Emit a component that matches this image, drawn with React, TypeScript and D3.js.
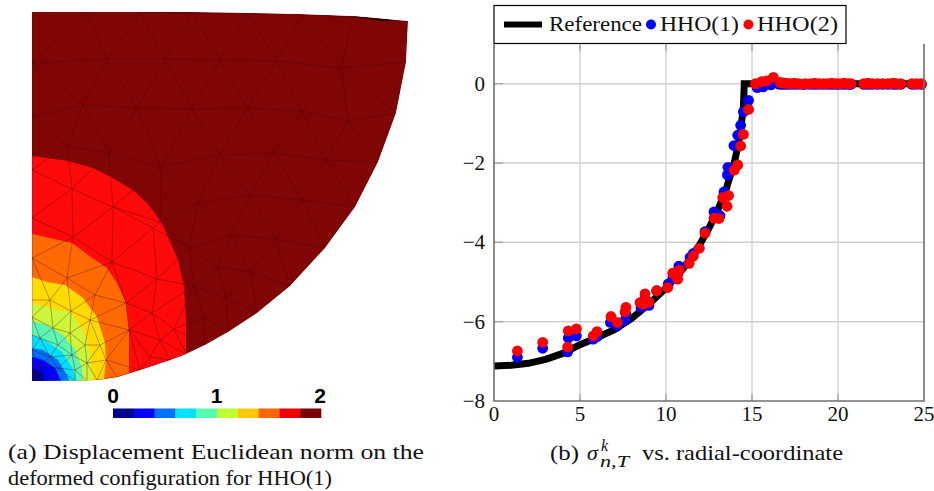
import React, { useEffect, useRef } from 'react';
import * as d3 from 'd3';

type Pt = [number, number];

// ---- left panel: mesh coordinates
const domainOutline: Pt[] = [[0, 36.9], [15.8, 36.9], [21.8, 36.8], [26.8, 36.7], [32.3, 36.5], [37.6, 36], [37.4, 31.9], [36.4, 26.8], [34.6, 21.9], [32.3, 17.4], [29.3, 13.3], [25.8, 9.5], [22.5, 6.8], [19.6, 4.9], [17.3, 3.6], [15.4, 2.7], [13.8, 2.1], [10.8, 1.1], [8.5, 0.4], [6.5, 0.1], [0, 0]];
const sliver: Pt[] = [[32.3, 36.45], [36, 36.1], [36, 35.95], [33.5, 36.2]];

const contourRed: Pt[] = [[0, 22.5], [1.5, 22.3], [3.6, 22], [6.1, 21.3], [8.1, 20.3], [10.2, 19], [11.5, 17.8], [13, 15.8], [14.6, 12.1], [15.2, 9.4], [15.4, 6.1], [15.4, 2.1]];
const contourOrange: Pt[] = [[0, 14.7], [1.8, 14.3], [4, 13.8], [5.6, 12.6], [7.5, 11.3], [8.5, 9.8], [9.4, 7.8], [9.7, 5.1], [9.7, 0.8]];
const contourYellow: Pt[] = [[0, 10.4], [1.5, 9.9], [3.3, 9.6], [5.1, 8.3], [6.5, 6.4], [7.3, 3.8], [7.4, 2.1], [7.2, 0.3]];
const contourLime: Pt[] = [[0, 7.8], [1.8, 7.3], [3.8, 6.9], [5.1, 5.1], [5.8, 2.8], [6.1, 0]];
const contourTeal: Pt[] = [[0, 6], [1.5, 5.6], [3.1, 4.6], [4.3, 3.1], [5, 1.4], [5.1, 0]];
const contourCyan: Pt[] = [[0, 4.6], [1.3, 4.1], [3, 2.9], [4, 1.4], [4.5, 0]];
const contourMid: Pt[] = [[0, 3.3], [1.1, 3.1], [2.6, 2.1], [3.6, 0.4], [3.7, 0]];
const contourBlue: Pt[] = [[0, 2.4], [1.1, 2.1], [2.3, 1.3], [2.9, 0]];
const contourNavy: Pt[] = [[0, 1.3], [1, 0.9], [1.3, 0]];

const contours = [contourRed, contourOrange, contourYellow, contourLime, contourTeal, contourCyan, contourMid, contourBlue, contourNavy];
const bandColors = ['#ff0a0a', '#ff6a00', '#ffdc00', '#ccf53c', '#5cf5b0', '#00dfff', '#0070ff', '#0000ff', '#00008c'];

const meshNodes: Pt[] = [
  [0, 36.9], [5.5, 36.9], [10.8, 36.9], [16, 36.8], [21.5, 36.8], [27, 36.6], [32.1, 36.4], [37.6, 36],
  [0, 31.8], [7.5, 32.2], [13.3, 32.2], [18.8, 32.1], [24.5, 32], [30.9, 31.3], [37.4, 31.9],
  [0, 26.4], [5.1, 27.6], [10.5, 27.3], [16, 27.2], [21.5, 27.3], [27, 27], [31.6, 26], [36.4, 26.8],
  [3.5, 23.5], [7.7, 22.8], [12.9, 21.4], [18.8, 22.6], [24.2, 22.8], [29.4, 22.1], [34.6, 21.9],
  [0, 21.1], [4, 19.2], [8.1, 17.4], [16.6, 17.8], [21.8, 18.6], [27, 18.1], [32.3, 17.4], [12.8, 15.9],
  [0, 16.3], [4.1, 14.4], [8, 11.9], [12.5, 10.2], [15.7, 13.3], [18.6, 11.4], [17.2, 6.4], [16.2, 9.5], [12.1, 15.3],
  [0, 12.3], [3.5, 10.3], [6.3, 8.6], [9.4, 7.8], [12, 6.8], [9.7, 5.1], [12.8, 4.1], [15.4, 2.7], [10.8, 1.1], [11.8, 2.4], [13.8, 2.1], [14.2, 5.2],
  [19.4, 8.3], [19.9, 14.6], [24.4, 14.2], [21.9, 10.9], [29.3, 13.3], [25.8, 9.5], [22.5, 6.8], [19.6, 4.9], [17.3, 3.6],
  [1.8, 8.1], [3.9, 7], [5.8, 6.1], [7.4, 2.1], [6.8, 3.6], [5.3, 3.6], [3.8, 4.8], [2.1, 5.3], [0, 6.4], [0, 8.1], [2.6, 3.6], [0.8, 4.3], [0, 4.6],
  [4, 2.6], [5.5, 1.8], [1.8, 2.4], [0, 3.1], [0, 1.6], [0.8, 1.4], [2.6, 1.3], [4.3, 1.1], [1, 0], [2, 0], [4.3, 0], [5.5, 0], [6.5, 0.1], [8.5, 0.4], [0, 0],
];

// colorbar
const barColors = ['#00008f', '#0000ff', '#0070ff', '#00e5ff', '#55ffb0', '#c0ff33', '#ffc800', '#ff6600', '#ee0000', '#7a0000'];
const barTicks = [0, 1, 2];

// ---- right panel
const refX = [0, 1, 2, 3, 4, 5, 6, 7, 8, 9, 10, 11, 12, 12.5, 13, 13.5, 14, 14.3, 14.5, 14.55, 25];
const refY = [-7.12, -7.1, -7.05, -6.95, -6.8, -6.58, -6.4, -6.2, -5.92, -5.56, -5.15, -4.66, -4.03, -3.64, -3.2, -2.66, -1.94, -1.31, -0.59, 0, 0];

const flatX = [16.8, 17, 17.2, 17.45, 17.7, 17.95, 18.1, 18.4, 18.65, 18.9, 19.15, 19.4, 19.65, 19.9, 20.1, 20.35, 20.6, 20.75, 21.5, 21.75, 22, 22.3, 22.6, 22.9, 23.2, 23.4, 23.65, 24.3, 24.55, 24.85];

const blueX = [1.36, 2.83, 4.32, 4.79, 4.28, 5.77, 5.99, 6.77, 7.17, 7.62, 7.67, 8.55, 8.78, 9.01, 9.46, 10.13, 10.4, 10.68, 10.75, 11.4, 11.59, 12.27, 12.79, 13.14, 13.37, 13.57, 13.6, 13.95, 14.17, 14.34, 14.5, 14.8, 15.3, 15.65, 16.1, 16.6];
const blueY = [-6.9, -6.67, -6.41, -6.36, -6.76, -6.44, -6.38, -6.02, -6.11, -5.96, -5.81, -5.64, -5.41, -5.59, -5.22, -5.05, -4.9, -4.8, -4.6, -4.38, -4.28, -3.73, -3.23, -3.33, -2.73, -2.3, -2.11, -1.56, -1.3, -1.05, -0.71, -0.42, -0.1, -0.08, -0.03, -0.02];
const blueFlatY = flatX.map(() => -0.02);

const redX = [1.36, 2.83, 4.32, 4.79, 4.28, 5.77, 5.99, 6.8, 7.17, 7.62, 7.67, 8.49, 8.78, 9.01, 8.68, 9.46, 10.1, 10.39, 10.68, 10.77, 10.58, 11.35, 11.59, 11.94, 12.27, 12.79, 13.08, 13.55, 13.64, 13.3, 13.97, 14.17, 14.34, 14.5, 14.8, 15.2, 15.56, 15.85, 16.24, 16.63];
const redY = [-6.74, -6.52, -6.23, -6.18, -6.64, -6.36, -6.25, -5.87, -6.02, -5.75, -5.64, -5.52, -5.3, -5.51, -5.56, -5.22, -5.14, -4.78, -4.93, -4.7, -4.85, -4.53, -4.35, -4.15, -3.77, -3.39, -3.4, -3.09, -2.82, -2.87, -2.18, -2.05, -1.57, -1.28, -0.65, 0, 0.05, 0.07, 0.16, 0.03];
const redFlatY = [0.02, 0.01, 0, 0.01, 0, -0.01, 0, 0, 0.01, 0, 0, 0, 0.01, 0, 0, 0.01, 0, 0, 0, 0.01, 0, 0, 0, 0, 0.01, 0, 0, 0, 0, 0];

const xTicks = [0, 5, 10, 15, 20, 25];
const yTicks = [-8, -6, -4, -2, 0];
const legendLabels = ['Reference', 'HHO(1)', 'HHO(2)'];

const serif = '"Liberation Serif", serif';
const minusSign = '\u2212';

export default function App() {
  const ref = useRef<SVGSVGElement>(null);

  useEffect(() => {
    const svg = d3.select(ref.current);
    svg.selectAll('*').remove();

    // left panel
    const mx = d3.scaleLinear().domain([0, 37.6]).range([32, 408]);
    const my = d3.scaleLinear().domain([0, 36.9]).range([381, 12]);
    const path = d3.line<Pt>().x(d => mx(d[0])).y(d => my(d[1]));

    svg.append('defs').append('clipPath').attr('id', 'dom')
      .append('path').attr('d', path(domainOutline) + 'Z');

    const left = svg.append('g').attr('clip-path', 'url(#dom)');
    left.append('path').attr('d', path(domainOutline) + 'Z').attr('fill', '#800505');
    contours.forEach((c, i) => {
      const last = c[c.length - 1];
      const poly: Pt[] = [...c, [last[0], -1], [0, -1]];
      left.append('path').attr('d', path(poly) + 'Z').attr('fill', bandColors[i]);
    });
    // mesh edges from the node list
    const delaunay = d3.Delaunay.from(meshNodes, d => mx(d[0]), d => my(d[1]));
    left.append('path').attr('d', delaunay.render())
      .attr('fill', 'none').attr('stroke', '#4a0000').attr('stroke-opacity', 0.35).attr('stroke-width', 1);
    svg.append('path').attr('d', path(sliver) + 'Z').attr('fill', '#1a0000');

    // colorbar
    const bx = d3.scaleBand<number>().domain(d3.range(barColors.length)).range([113, 321]);
    svg.append('g').selectAll('rect').data(barColors).enter().append('rect')
      .attr('x', (d, i) => bx(i) as number).attr('y', 408.5)
      .attr('width', bx.bandwidth() + 0.3).attr('height', 9.5).attr('fill', d => d);
    const bt = d3.scaleLinear().domain([0, 2]).range([113, 320]);
    svg.append('g').selectAll('text').data(barTicks).enter().append('text')
      .attr('x', d => bt(d)).attr('y', 403).attr('text-anchor', 'middle')
      .attr('font-family', '"Liberation Sans", sans-serif').attr('font-weight', 'bold').attr('font-size', 21)
      .text(d => d);

    // right panel
    const x = d3.scaleLinear().domain([0, 25]).range([494, 924]);
    const y = d3.scaleLinear().domain([-8, 1]).range([401, 44]);

    const grid = svg.append('g');
    xTicks.slice(1, -1).forEach(t => {
      grid.append('line').attr('x1', x(t)).attr('x2', x(t)).attr('y1', y(-8)).attr('y2', y(1))
        .attr('stroke', '#d6d6d6').attr('stroke-width', 1.5);
      grid.append('line').attr('x1', x(t)).attr('x2', x(t)).attr('y1', y(1)).attr('y2', y(1) + 7)
        .attr('stroke', '#a8a8a8').attr('stroke-width', 1.5);
      grid.append('line').attr('x1', x(t)).attr('x2', x(t)).attr('y1', y(-8)).attr('y2', y(-8) - 7)
        .attr('stroke', '#a8a8a8').attr('stroke-width', 1.5);
    });
    yTicks.slice(1).forEach(t => {
      grid.append('line').attr('x1', x(0)).attr('x2', x(25)).attr('y1', y(t)).attr('y2', y(t))
        .attr('stroke', '#cfcfcf').attr('stroke-width', 1.5);
      grid.append('line').attr('x1', x(0)).attr('x2', x(0) + 9).attr('y1', y(t)).attr('y2', y(t))
        .attr('stroke', '#a8a8a8').attr('stroke-width', 1.5);
    });

    const refLine = d3.line<number>().x(d => x(d)).y((d, i) => y(refY[i]));
    svg.append('path').attr('d', refLine(refX)).attr('fill', 'none')
      .attr('stroke', '#000').attr('stroke-width', 7).attr('stroke-linejoin', 'miter');

    const dots = (xs: number[], ys: number[], color: string) => {
      svg.append('g').selectAll('circle').data(xs).enter().append('circle')
        .attr('cx', d => x(d)).attr('cy', (d, i) => y(ys[i])).attr('r', 5.4).attr('fill', color);
    };
    dots(blueX, blueY, '#0000ff');
    dots(flatX, blueFlatY, '#0000ff');
    dots(redX, redY, '#ff0000');
    dots(flatX, redFlatY, '#ff0000');

    svg.append('path')
      .attr('d', `M${x(0)},${y(1)}V${y(-8)}H${x(25)}V${y(1)}`)
      .attr('fill', 'none').attr('stroke', '#707070').attr('stroke-width', 1.6);

    const tickText = (sel: d3.Selection<any, any, any, any>) =>
      sel.attr('font-family', serif).attr('font-size', 21).attr('fill', '#111');

    const xAxis = svg.append('g');
    xTicks.forEach(t => {
      tickText(xAxis.append('text')).attr('x', x(t)).attr('y', 421).attr('text-anchor', 'middle').text(t);
    });
    const yAxis = svg.append('g');
    yTicks.forEach(t => {
      tickText(yAxis.append('text')).attr('x', 485).attr('y', y(t) + 7).attr('text-anchor', 'end')
        .text(t < 0 ? minusSign + Math.abs(t) : String(t));
    });

    // legend
    const lg = svg.append('g');
    lg.append('rect').attr('x', 494).attr('y', 5.5).attr('width', 352).attr('height', 38)
      .attr('fill', '#fff').attr('stroke', '#000').attr('stroke-width', 1.2);
    lg.append('line').attr('x1', 504).attr('x2', 542).attr('y1', 24.5).attr('y2', 24.5)
      .attr('stroke', '#000').attr('stroke-width', 6);
    lg.append('circle').attr('cx', 651).attr('cy', 24.5).attr('r', 5).attr('fill', '#0000ff');
    lg.append('circle').attr('cx', 748.5).attr('cy', 24.5).attr('r', 5).attr('fill', '#ff0000');
    const legendPos: [number, number][] = [[549, 93], [660, 79], [757, 81]];
    legendLabels.forEach((s, i) => {
      tickText(lg.append('text')).attr('x', legendPos[i][0]).attr('y', 31).attr('font-size', 22)
        .attr('textLength', legendPos[i][1]).attr('lengthAdjust', 'spacingAndGlyphs').text(s);
    });

    // captions
    const cap = svg.append('g');
    const caption = (s: string, cx: number, cy: number, w: number) =>
      tickText(cap.append('text')).attr('x', cx).attr('y', cy)
        .attr('textLength', w).attr('lengthAdjust', 'spacingAndGlyphs').text(s);
    caption('(a) Displacement Euclidean norm on the', 8, 459, 416);
    caption('deformed configuration for HHO(1)', 8, 485, 324);
    caption('(b)', 550, 460, 29);
    tickText(cap.append('text')).attr('x', 587).attr('y', 460).attr('font-size', 22).attr('font-style', 'italic').text('\u03c3');
    tickText(cap.append('text')).attr('x', 601).attr('y', 451).attr('font-size', 16).attr('font-style', 'italic').text('k');
    tickText(cap.append('text')).attr('x', 600).attr('y', 467).attr('font-size', 16).attr('font-style', 'italic')
      .attr('textLength', 29).attr('lengthAdjust', 'spacingAndGlyphs').text('n,T');
    caption('vs. radial-coordinate', 642, 460, 201);
  }, []);

  return <svg ref={ref} width={934} height={491} style={{ position: 'absolute', left: 0, top: 0, background: '#fff' }} />;
}
